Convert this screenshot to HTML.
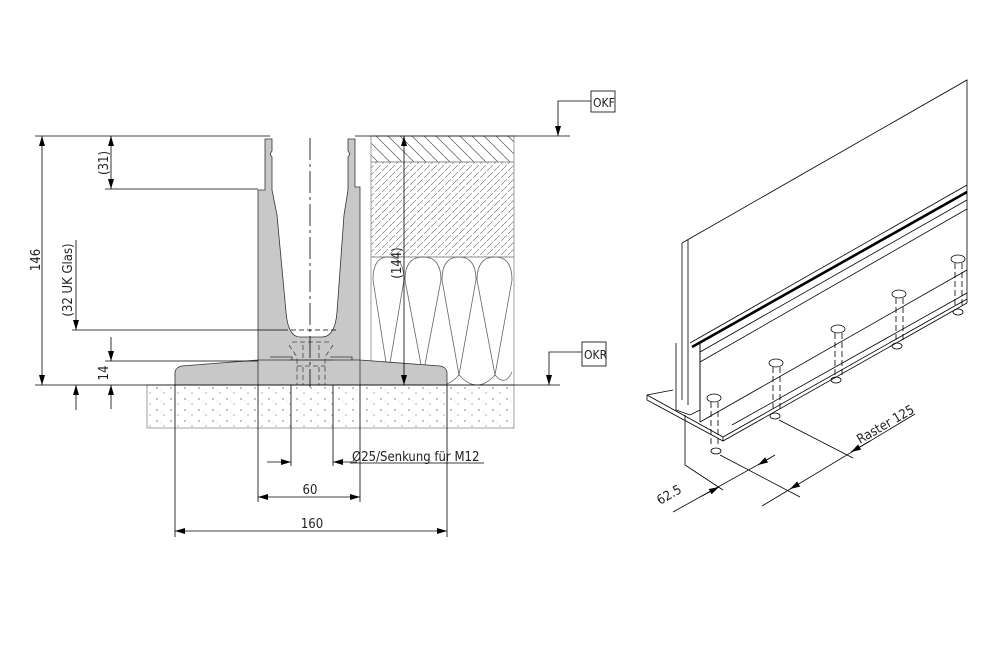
<!DOCTYPE html>
<html><head><meta charset="utf-8"><style>
html,body{margin:0;padding:0;background:#fff;}
svg{display:block;}
text{font-family:"DejaVu Sans Condensed","Liberation Sans Narrow","Liberation Sans",sans-serif;fill:#222;}
</style></head><body>
<svg width="998" height="657" viewBox="0 0 998 657" xmlns="http://www.w3.org/2000/svg">
<defs>
<marker id="a" viewBox="0 0 10 6" refX="10" refY="3" markerWidth="10" markerHeight="6" orient="auto-start-reverse" markerUnits="userSpaceOnUse"><path d="M0,0 L10,3 L0,6z" fill="#000"/></marker>
<pattern id="dots" width="14" height="11" patternUnits="userSpaceOnUse"><circle cx="3" cy="3" r="0.7" fill="#666"/><circle cx="10" cy="8" r="0.6" fill="#777"/><circle cx="7" cy="5" r="0.4" fill="#999"/></pattern>
<pattern id="h1" width="12" height="12" patternUnits="userSpaceOnUse"><path d="M0,0 L12,12" stroke="#555" stroke-width="0.7"/></pattern>
<pattern id="h2" width="7" height="7" patternUnits="userSpaceOnUse"><path d="M0,7 L7,0" stroke="#666" stroke-width="0.6" stroke-dasharray="4 2"/></pattern>
</defs>
<g stroke="#000" stroke-width="0.8" fill="none">
<rect x="147" y="385" width="367" height="43" fill="url(#dots)" stroke="#888"/>
<rect x="371" y="136" width="143" height="26" fill="url(#h1)" stroke="#888"/>
<rect x="371" y="162" width="143" height="95" fill="url(#h2)" stroke="#888"/>
<rect x="371" y="257" width="143" height="128" stroke="#888"/>
<g stroke="#666">
<path d="M373,280 Q373,257 388,257 Q404,257 404,280 L388,375 L373,280"/>
<path d="M405,280 Q405,257 423,257 Q441,257 441,280 L423,375 L405,280"/>
<path d="M442,280 Q442,257 459,257 Q476,257 476,280 L459,375 L442,280"/>
<path d="M477,280 Q477,257 495,257 Q512,257 512,280 L495,375 L477,280"/>
<path d="M388,375 Q396,387 404,375 M404,385 Q413,365 423,375 M423,375 Q441,395 459,375 M459,375 Q477,395 495,375 M495,375 Q505,387 512,372"/>
</g>
<path d="M175,385 L175,372 Q176,367 182,366 L258,360 L258,190 L265,190 L265,139 L272,139 L272,151 Q269,154 272,157 L272,190 L277,215 L286,312 Q288,337 300,337 L322,337 Q335,337 337,312 L344,215 L348,190 L348,157 Q351,154 348,151 L348,139 L355,139 L355,187 L360,187 L360,360 L440,366 Q446,367 447,372 L447,385 Z" fill="#c8c8c8" stroke="#333"/>
<line x1="258" y1="360" x2="360" y2="360" stroke="#333"/>
<line x1="258" y1="360" x2="258" y2="385" stroke="#333"/>
<line x1="360" y1="360" x2="360" y2="385" stroke="#333"/>
<path d="M289,360 L333,360 M270,357 L292,357 L292,360 M330,357 L352,357 L352,360" stroke="#333"/>
<g stroke="#444" stroke-dasharray="5 3">
<path d="M289,345 L297,357 L297,385 M333,345 L325,357 L325,385 M303,345 L303,360 M319,345 L319,360 M303,367 L303,385 M319,367 L319,385 M292,342 L330,342 M297,366 L325,366"/>
</g>
<line x1="310" y1="138" x2="310" y2="387" stroke-dasharray="22 4 3 4"/>
<line x1="35" y1="136" x2="270" y2="136"/>
<line x1="35" y1="385" x2="560" y2="385"/>
<line x1="42" y1="136" x2="42" y2="385" marker-start="url(#a)" marker-end="url(#a)"/>
<line x1="105" y1="189" x2="258" y2="189"/>
<line x1="111" y1="136" x2="111" y2="189" marker-start="url(#a)" marker-end="url(#a)"/>
<line x1="72" y1="330" x2="283" y2="330"/>
<line x1="283" y1="330" x2="338" y2="330" stroke-dasharray="5 3"/>
<line x1="76" y1="240" x2="76" y2="330" marker-end="url(#a)"/>
<line x1="76" y1="385" x2="76" y2="410" marker-start="url(#a)"/>
<line x1="105" y1="361" x2="258" y2="361"/>
<line x1="111" y1="337" x2="111" y2="361" marker-end="url(#a)"/>
<line x1="111" y1="385" x2="111" y2="409" marker-start="url(#a)"/>
<line x1="355" y1="136" x2="570" y2="136"/>
<line x1="404" y1="136" x2="404" y2="385" marker-start="url(#a)" marker-end="url(#a)"/>
<polyline points="591,101 558,101 558,136" marker-end="url(#a)"/>
<rect x="591" y="91" width="24" height="21"/>
<polyline points="582,352 549,352 549,385" marker-end="url(#a)"/>
<rect x="582" y="342" width="24" height="24"/>
<line x1="291" y1="385" x2="291" y2="466"/>
<line x1="333" y1="385" x2="333" y2="466"/>
<line x1="267" y1="462" x2="291" y2="462" marker-end="url(#a)"/>
<line x1="357" y1="462" x2="333" y2="462" marker-end="url(#a)"/>
<line x1="350" y1="463" x2="484" y2="463"/>
<line x1="258" y1="385" x2="258" y2="502"/>
<line x1="360" y1="385" x2="360" y2="502"/>
<line x1="258" y1="497" x2="360" y2="497" marker-start="url(#a)" marker-end="url(#a)"/>
<line x1="175" y1="385" x2="175" y2="537"/>
<line x1="447" y1="385" x2="447" y2="537"/>
<line x1="175" y1="531" x2="447" y2="531" marker-start="url(#a)" marker-end="url(#a)"/>
</g>
<g font-size="13">
<text transform="translate(40,260) rotate(-90)" text-anchor="middle">146</text>
<text transform="translate(108,163) rotate(-90)" text-anchor="middle">(31)</text>
<text transform="translate(72,280) rotate(-90)" text-anchor="middle">(32 UK Glas)</text>
<text transform="translate(108,373) rotate(-90)" text-anchor="middle">14</text>
<text transform="translate(401,263) rotate(-90)" text-anchor="middle">(144)</text>
<text x="593" y="107" font-size="12">OKF</text>
<text x="584" y="359" font-size="12">OKR</text>
<text x="352" y="461">Ø25/Senkung für M12</text>
<text x="310" y="494" text-anchor="middle">60</text>
<text x="312" y="528" text-anchor="middle">160</text>
</g>
<g stroke="#000" stroke-width="0.8" fill="none">
<path d="M682,243 L967,80 L967,303"/>
<line x1="682" y1="243" x2="682" y2="400"/>
<line x1="688" y1="240" x2="688" y2="405"/>
<path d="M647,395 L673,390 M647,395 L647,400 L723,441 L967,303 M647,395 L723,437 L967,299"/>
<path d="M723,437 L723,441"/>
<path d="M676,343 L676,410 L690,415 L700,410 L700,342"/>
<path d="M690,343 L967,185"/>
<path d="M692,347 L967,192" stroke-width="2.6"/>
<path d="M700,352 L967,200 M700,362 L967,209"/>
<path d="M700,422 L967,270"/>
<path d="M700,342 L700,422"/>
<path d="M732,425 L967,293"/>
<ellipse cx="714" cy="398" rx="7" ry="4"/>
<ellipse cx="776" cy="363" rx="7" ry="4"/>
<ellipse cx="838" cy="329" rx="7" ry="4"/>
<ellipse cx="899" cy="294" rx="7" ry="4"/>
<ellipse cx="958" cy="259" rx="7" ry="4"/>
<g stroke-dasharray="6 3">
<path d="M711,402 L711,445 M718,402 L718,445 M773,367 L773,410 M780,367 L780,410 M835,333 L835,375 M842,333 L842,375 M896,298 L896,340 M903,298 L903,340 M955,263 L955,305 M962,263 L962,305"/>
</g>
<ellipse cx="716" cy="451" rx="5" ry="3"/>
<ellipse cx="775" cy="416" rx="5" ry="3"/>
<ellipse cx="836" cy="380" rx="5" ry="3"/>
<ellipse cx="897" cy="346" rx="5" ry="3"/>
<ellipse cx="958" cy="312" rx="5" ry="3"/>
<polyline points="685,415 685,465 723,490"/>
<line x1="720" y1="455" x2="800" y2="497"/>
<line x1="779" y1="420" x2="853" y2="458"/>
<line x1="673" y1="512" x2="770" y2="458"/>
<line x1="700" y1="497" x2="719" y2="487" marker-end="url(#a)"/>
<line x1="775" y1="455" x2="758" y2="465" marker-end="url(#a)"/>
<line x1="762" y1="506" x2="915" y2="414"/>
<line x1="790" y1="489" x2="797" y2="485" marker-start="url(#a)"/>
<line x1="870" y1="441" x2="851" y2="452" marker-end="url(#a)"/>
</g>
<g font-size="13">
<text transform="translate(660,505) rotate(-30)">62.5</text>
<text transform="translate(860,444) rotate(-30)">Raster 125</text>
</g>
</svg>
</body></html>
